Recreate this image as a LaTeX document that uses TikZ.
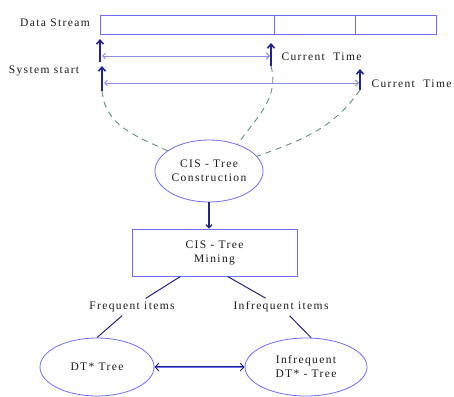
\documentclass[tikz,border=0pt]{standalone}
\usepackage{fontspec}
\setmainfont[LetterSpace=12]{Liberation Serif}
\usetikzlibrary{arrows.meta,positioning,shapes.geometric}
\definecolor{boxblue}{RGB}{110,110,250}
\definecolor{arrowblue}{RGB}{35,35,140}
\definecolor{lineblue}{RGB}{140,140,235}
\definecolor{dashgreen}{RGB}{95,140,130}

\begin{document}
\begin{tikzpicture}[x=1pt,y=-1pt,
font=\fontsize{11.5}{14}\selectfont, text=black!90,
stream/.style={draw=boxblue, line width=0.8pt, minimum height=19pt, inner sep=0pt},
process/.style={ellipse, draw=boxblue, line width=0.8pt, inner sep=0pt, align=center},
task/.style={rectangle, draw=boxblue, line width=0.8pt, minimum width=165pt,
  minimum height=47pt, align=center},
tick/.style={draw=arrowblue, line width=1.6pt, -{Straight Barb[length=4pt,width=7pt]}},
span/.style={draw=lineblue, line width=0.9pt,
  {Straight Barb[length=3pt,width=6pt]}-{Straight Barb[length=3pt,width=6pt]}},
link/.style={draw=dashgreen, line width=0.9pt, dash pattern=on 6pt off 5pt},
flow/.style={draw=arrowblue, line width=1pt}]

\useasboundingbox (0,0) rectangle (454,396);

\node[stream, minimum width=174pt] (seg1) at (187,24.5) {};
\node[stream, minimum width=81pt] (seg2) at (314.5,24.5) {};
\node[stream, minimum width=81pt] (seg3) at (395.5,24.5) {};
\node (stream) at (55,23) {Data Stream};

\coordinate (start1) at (100,62);
\coordinate (start1top) at (100,39);
\coordinate (now1) at (271,66);
\coordinate (now1top) at (271,43);
\coordinate (start2) at (102,91);
\coordinate (start2top) at (102,66);
\coordinate (now2) at (360,90);
\coordinate (now2top) at (360,69);
\coordinate (span1a) at (102,56);
\coordinate (span1b) at (270,56);
\coordinate (span2a) at (104,83);
\coordinate (span2b) at (359,83);

\draw[tick] (start1) -- (start1top);
\draw[tick] (now1) -- (now1top);
\draw[tick] (start2) -- (start2top);
\draw[tick] (now2) -- (now2top);
\draw[span] (span1a) -- (span1b);
\draw[span] (span2a) -- (span2b);

\node[anchor=west] (cur1) at (278,57) {Current\ \ Time};
\node[anchor=west] (cur2) at (368,84) {Current\ \ Time};
\node (sysstart) at (44,71) {System start};

\node[process, minimum width=108pt, minimum height=62pt] (build) at (209,171)
  {CIS - Tree\\Construction};
\node[task] (mine) at (214.5,252.5) {CIS - Tree\\Mining};
\node (freq) at (132,307) {Frequent items};
\node (infreq) at (281,307) {Infrequent items};
\node[process, minimum width=114pt, minimum height=58pt] (dt) at (97,367) {DT* Tree};
\node[process, minimum width=122pt, minimum height=58pt] (idt) at (306,367)
  {Infrequent\\DT* - Tree};

\draw[link] (start2) to[out=-85,in=155] (build.154);
\draw[link] (now1) to[out=-75,in=55] (build.43);
\draw[link] (now2) to[out=-125,in=20] (build.17);

\draw[flow, line width=1.3pt, -{Straight Barb[length=3pt,width=6pt]}] (build.south) -- (build.south |- mine.north);
\draw[flow] ([xshift=-34pt]mine.south) -- (freq);
\draw[flow] (freq) -- (dt.north);
\draw[flow] ([xshift=13pt]mine.south) -- (infreq);
\draw[flow] (infreq) -- (idt.80);
\draw[draw=arrowblue, line width=0.8pt, double=boxblue, double distance=1pt,
  {Straight Barb[length=4pt,width=8pt]}-{Straight Barb[length=4pt,width=8pt]}] (dt) -- (idt);

\end{tikzpicture}
\end{document}
